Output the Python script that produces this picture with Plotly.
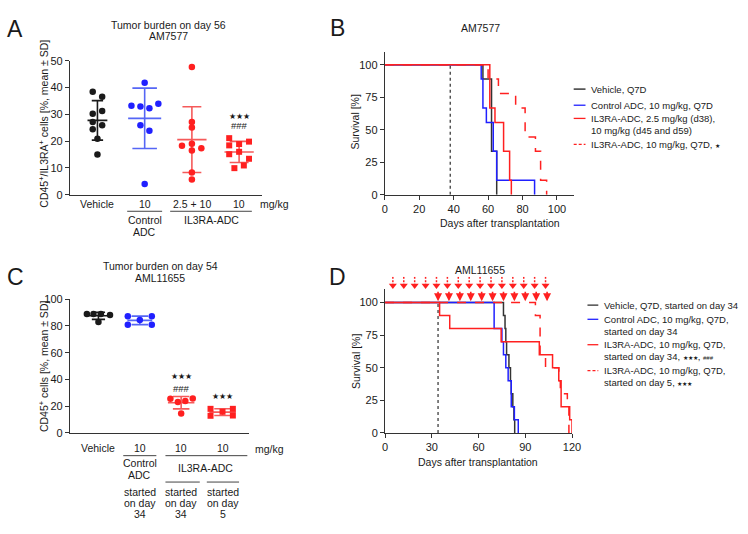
import numpy as np
import plotly.graph_objects as go

W, H = 748, 534
FONT = "Arial, Liberation Sans, sans-serif"
BLACK = "#1a1a1a"
BLUE = "#2020ff"
RED = "#ff2020"
BLUE_EB = "#5566f5"
RED_EB = "#f55a5a"
AXC = "#333333"

# ---------------- Panel A data (tumor burden day 56, AM7577) ----------------
a_title = ["Tumor burden on day 56", "AM7577"]
a_ticks = ["Vehicle", "10", "2.5 + 10", "10"]
a_vehicle = [38.4, 36.6, 30.2, 31.2, 27.1, 25.9, 24.4, 20.9, 15.0]
a_control = [41.8, 33.2, 32.9, 32.3, 33.9, 25.9, 23.9, 4.0]
a_il3ra_low = [47.7, 27.1, 25.1, 18.3, 19.0, 16.5, 17.3, 8.3, 5.7]
a_il3ra_q7d = [21.1, 19.8, 18.9, 18.4, 15.1, 16.0, 13.4, 9.9, 10.9]
# horizontal scatter of the dots (style)
a_jit_vehicle = [-0.1, 0.1, -0.1, 0.1, -0.1, 0.1, -0.1, 0.0, 0.0]
a_jit_control = [0.0, -0.28, -0.09, 0.1, 0.29, -0.09, 0.1, 0.0]
a_jit_low = [0.0, 0.0, 0.0, -0.21, 0.0, 0.0, 0.2, 0.0, 0.0]
a_jit_q7d = [-0.21, 0.21, 0.0, -0.21, -0.21, 0.0, 0.21, -0.1, 0.1]

# ---------------- Panel C data (tumor burden day 54, AML11655) --------------
c_title = ["Tumor burden on day 54", "AML11655"]
c_ticks = ["Vehicle", "10", "10", "10"]
c_vehicle = [89.0, 89.0, 89.0, 88.3, 82.9]
c_control = [87.3, 87.3, 81.0, 81.0, 84.4]
c_il3ra34 = [25.6, 23.2, 23.8, 25.8, 14.6]
c_il3ra5 = [18.0, 12.8, 15.8, 18.0, 13.0]
c_jit_vehicle = [-0.28, -0.12, 0.06, 0.28, 0.0]
c_jit_control = [-0.29, 0.29, -0.29, 0.29, 0.0]
c_jit_34 = [-0.26, -0.08, 0.1, 0.28, 0.0]
c_jit_5 = [-0.29, -0.29, 0.0, 0.25, 0.25]

# ---------------- Panel B survival (AM7577) ----------------
b_vehicle_days = [0, 57, 62, 65]
b_vehicle_surv = [100, 88.9, 33.3, 0]
b_control_days = [0, 56, 57, 59, 63, 65, 87]
b_control_surv = [100, 88.9, 66.7, 55.6, 33.3, 11.1, 0]
b_low_days = [0, 61, 64, 69, 72.5, 73.5]
b_low_surv = [100, 66.7, 55.6, 33.3, 11.1, 0]
b_q7d_days = [0, 60, 66, 76, 81.5, 87.5, 90.5, 94]
b_q7d_surv = [100, 88.9, 77.8, 66.7, 44.4, 33.3, 11.1, 0]
b_dosing_days = [38, 45, 52, 59, 66, 73, 80, 87]
b_start_day = 38
b_legend = ["Vehicle, Q7D", "Control ADC, 10 mg/kg, Q7D",
            "IL3RA-ADC, 2.5 mg/kg (d38),<br>10 mg/kg (d45 and d59)",
            "IL3RA-ADC, 10 mg/kg, Q7D, <span style='font-size:6px'>★</span>"]

# ---------------- Panel D survival (AML11655) ----------------
d_vehicle_days = [0, 76, 77, 77.5, 78, 79.5, 80.5, 81, 82, 82.7, 83.2]
d_vehicle_surv = [100, 90, 80, 70, 60, 50, 40, 30, 20, 10, 0]
d_control_days = [0, 70, 75, 76, 77.5, 79, 81, 83, 85.5]
d_control_surv = [100, 80, 70, 60, 50, 40, 20, 10, 0]
d_d34_days = [0, 35, 41.5, 74.5, 99, 107.5, 111.5, 113, 118.5, 120]
d_d34_surv = [100, 90, 80, 70, 60, 50, 40, 20, 10, 0]
d_d5_days = [0, 96.5, 99.5, 103, 111.5, 112.5, 117, 118]
d_d5_surv = [100, 90, 60, 50, 40, 30, 20, 0]
d_dosing_from5 = [5, 12, 19, 26, 33, 40, 47, 54, 61, 68, 75, 82, 89, 96, 103]
d_dosing_from34 = [34, 41, 48, 55, 62, 69, 76, 83, 90, 97, 104]
d_start_day = 34
d_legend = ["Vehicle, Q7D, started on day 34",
            "Control ADC, 10 mg/kg, Q7D,<br>started on day 34",
            "IL3RA-ADC, 10 mg/kg, Q7D,<br>started on day 34, <span style='font-size:6px'>★★★</span>, <span style='font-size:6px'>###</span>",
            "IL3RA-ADC, 10 mg/kg, Q7D,<br>started on day 5, <span style='font-size:6px'>★★★</span>"]

fig = go.Figure()
annotations = []
shapes = []


def px(x):
    return x / W


def py(y):
    return 1 - y / H


def ann(text, x, y, size=10, xanchor="center", yanchor="middle", angle=0,
        color=BLACK, xref="paper", yref="paper", family=FONT, align="center"):
    annotations.append(dict(
        text=text, x=(px(x) if xref == "paper" else x),
        y=(py(y) if yref == "paper" else y),
        xref=xref, yref=yref, showarrow=False, textangle=angle, align=align,
        font=dict(size=size, family=family, color=color),
        xanchor=xanchor, yanchor=yanchor, borderpad=0))


def group(xc, vals, jit, color, eb_color, symbol, size, xa, ya, mean_hw, cap_hw):
    vals = np.array(vals, dtype=float)
    m = vals.mean()
    s = vals.std(ddof=1)
    lx = [xc - mean_hw, xc + mean_hw, None, xc, xc, None,
          xc - cap_hw, xc + cap_hw, None, xc - cap_hw, xc + cap_hw]
    ly = [m, m, None, m - s, m + s, None, m + s, m + s, None, m - s, m - s]
    fig.add_trace(go.Scatter(x=lx, y=ly, mode="lines", xaxis=xa, yaxis=ya,
                             line=dict(color=eb_color, width=1.6),
                             hoverinfo="skip", showlegend=False))
    fig.add_trace(go.Scatter(x=xc + np.array(jit), y=vals, mode="markers",
                             xaxis=xa, yaxis=ya, cliponaxis=False,
                             marker=dict(color=color, symbol=symbol, size=size,
                                         line=dict(width=0)),
                             showlegend=False))


# ---------------- Panel A ----------------
group(0, a_vehicle, a_jit_vehicle, BLACK, BLACK, "circle", 6.5, "x", "y", 0.21, 0.12)
group(1, a_control, a_jit_control, BLUE, BLUE_EB, "circle", 6.5, "x", "y", 0.35, 0.26)
group(2, a_il3ra_low, a_jit_low, RED, RED_EB, "circle", 6.5, "x", "y", 0.31, 0.2)
group(3, a_il3ra_q7d, a_jit_q7d, RED, RED_EB, "square", 6, "x", "y", 0.31, 0.2)

ann("★★★", 3, 29.3, size=7.5, xref="x", yref="y")
ann("###", 3, 25.7, size=9.5, xref="x", yref="y")

# ---------------- Panel C ----------------
group(0, c_vehicle, c_jit_vehicle, BLACK, BLACK, "circle", 6.5, "x3", "y3", 0.3, 0.16)
group(1, c_control, c_jit_control, BLUE, BLUE_EB, "circle", 6.5, "x3", "y3", 0.3, 0.2)
group(2, c_il3ra34, c_jit_34, RED, RED_EB, "circle", 6.5, "x3", "y3", 0.32, 0.2)
group(3, c_il3ra5, c_jit_5, RED, RED_EB, "square", 6, "x3", "y3", 0.32, 0.2)

ann("★★★", 2, 42.4, size=7.5, xref="x3", yref="y3")
ann("###", 2, 33.4, size=9.5, xref="x3", yref="y3")
ann("★★★", 3, 27.6, size=7.5, xref="x3", yref="y3")


# ---------------- Panel B ----------------
def surv(days, s, color, dash, xa, ya, width=1.5):
    fig.add_trace(go.Scatter(x=days, y=s, mode="lines", line_shape="hv",
                             xaxis=xa, yaxis=ya,
                             line=dict(color=color, width=width, dash=dash),
                             showlegend=False))


fig.add_trace(go.Scatter(x=[b_start_day, b_start_day], y=[0, 100], mode="lines",
                         xaxis="x2", yaxis="y2",
                         line=dict(color=BLACK, width=1.1, dash="dot"), showlegend=False))
surv(b_vehicle_days, b_vehicle_surv, "#333333", "solid", "x2", "y2")
surv(b_control_days, b_control_surv, BLUE, "solid", "x2", "y2")
surv(b_q7d_days, b_q7d_surv, RED, "dash", "x2", "y2")
surv(b_low_days, b_low_surv, RED, "solid", "x2", "y2")

for d in b_dosing_days:
    annotations.append(dict(x=d, y=111, xref="x2", yref="y2", text="", showarrow=True,
                            ax=0, ay=-10, arrowhead=2, arrowsize=1, arrowwidth=1.2,
                            arrowcolor="#666666"))

# ---------------- Panel D ----------------
fig.add_trace(go.Scatter(x=[d_start_day, d_start_day], y=[0, 100], mode="lines",
                         xaxis="x4", yaxis="y4",
                         line=dict(color=BLACK, width=1.1, dash="dot"), showlegend=False))
surv(d_vehicle_days, d_vehicle_surv, "#333333", "solid", "x4", "y4")
surv(d_control_days, d_control_surv, BLUE, "solid", "x4", "y4")
surv(d_d5_days, d_d5_surv, RED, "dash", "x4", "y4")
surv(d_d34_days, d_d34_surv, RED, "solid", "x4", "y4")

# dashed dosing arrows (started day 5) on a thin overlay axis above panel D
sx, sy = [], []
for d in d_dosing_from5:
    sx += [d, d, None]
    sy += [1.0, 0.3, None]
fig.add_trace(go.Scatter(x=sx, y=sy, mode="lines", xaxis="x5", yaxis="y5",
                         line=dict(color=RED, width=1.5, dash="2px,1.5px"),
                         hoverinfo="skip", showlegend=False))
fig.add_trace(go.Scatter(x=d_dosing_from5, y=[0.18] * len(d_dosing_from5), mode="markers",
                         xaxis="x5", yaxis="y5", cliponaxis=False,
                         marker=dict(symbol="triangle-down", size=7, color=RED,
                                     line=dict(width=0)),
                         hoverinfo="skip", showlegend=False))
for d in d_dosing_from34:
    annotations.append(dict(x=d, y=101, xref="x4", yref="y4", text="", showarrow=True,
                            ax=0, ay=-11, arrowhead=2, arrowsize=1, arrowwidth=1.6,
                            arrowcolor=RED))

# ---------------- text: panel letters / titles ----------------
ann("A", 12, 24, size=23)
ann("B", 340, 23, size=23)
ann("C", 13, 277, size=23)
ann("D", 340, 277, size=23)

ann(a_title[0], 168, 19, size=10.5)
ann(a_title[1], 168, 31, size=10.5)
ann(c_title[0], 160, 266, size=10.5)
ann(c_title[1], 160, 278, size=10.5)
ann("AM7577", 485, 22, size=10.5)
ann("AML11655", 485, 270, size=10.5)

ann("CD45<sup>+</sup>/IL3RA<sup>+</sup> cells [%, mean ± SD]", 41, 120, size=10.5, angle=-90)
ann("CD45<sup>+</sup> cells [%, mean ± SD]", 41, 368, size=10.5, angle=-90)
ann("Survival [%]", 358, 118, size=10.5, angle=-90)
ann("Survival [%]", 359, 363, size=10.5, angle=-90)
ann("Days after transplantation", 505, 222, size=10.5)
ann("Days after transplantation", 483, 466, size=10.5)


# ---------------- group labels below category axes ----------------
def under(xa, x0, x1, y):
    shapes.append(dict(type="line", xref=xa, yref="paper", x0=x0, x1=x1,
                       y0=py(y), y1=py(y), line=dict(color="#444444", width=1)))


# A
for i, t in enumerate(a_ticks):
    ann(t, i, 203, size=10.5, xref="x")
under("x", 0.63, 1.37, 210)
under("x", 1.54, 3.27, 210)
ann("Control", 1, 219, size=10.5, xref="x")
ann("ADC", 1, 231, size=10.5, xref="x")
ann("IL3RA-ADC", 2.41, 219, size=10.5, xref="x")
ann("mg/kg", 276, 203, size=10.5)
# C
for i, t in enumerate(c_ticks):
    ann(t, i, 452.5, size=10.5, xref="x3")
under("x3", 0.6, 1.4, 460)
under("x3", 1.62, 3.6, 460)
ann("Control", 1, 468, size=10.5, xref="x3")
ann("ADC", 1, 480, size=10.5, xref="x3")
ann("IL3RA-ADC", 2.6, 473, size=10.5, xref="x3")
under("x3", 1.62, 2.45, 487)
under("x3", 2.62, 3.4, 487)
for xc, day in [(1, "34"), (2, "34"), (3, "5")]:
    ann("started", xc, 497, size=10.5, xref="x3")
    ann("on day", xc, 508.5, size=10.5, xref="x3")
    ann(day, xc, 520, size=10.5, xref="x3")
ann("mg/kg", 271, 453, size=10.5)

# ---------------- manual legends ----------------
b_rows = [(85, BLACK, "solid"), (101.5, BLUE, "solid"), (115, RED, "solid"), (141.5, RED, "dash")]
for (yy, col, dash), txt in zip(b_rows, b_legend):
    shapes.append(dict(type="line", xref="paper", yref="paper", x0=px(580), x1=px(592),
                       y0=py(yy), y1=py(yy), line=dict(color=col, width=1.3,
                                                          dash=("3px,2px" if dash == "dash" else "solid"))))
    ann(txt, 597, yy - 6.5, size=9.5, xanchor="left", yanchor="top", align="left")

d_rows = [(306, "#333333", "solid"), (320.5, BLUE, "solid"), (346.5, RED, "solid"), (373, RED, "dash")]
for (yy, col, dash), txt in zip(d_rows, d_legend):
    shapes.append(dict(type="line", xref="paper", yref="paper", x0=px(594), x1=px(605),
                       y0=py(yy), y1=py(yy), line=dict(color=col, width=1.3,
                                                          dash=("3px,2px" if dash == "dash" else "solid"))))
    ann(txt, 610, yy - 6.5, size=9.5, xanchor="left", yanchor="top", align="left")

# ---------------- axes ----------------
axis_common = dict(showline=True, linecolor=AXC, linewidth=1, showgrid=False,
                   zeroline=False, tickfont=dict(size=11, family=FONT, color=BLACK),
                   ticks="outside", ticklen=4, tickcolor=AXC, fixedrange=True)

fig.update_layout(
    width=W, height=H, margin=dict(l=0, r=0, t=0, b=0),
    paper_bgcolor="white", plot_bgcolor="white", showlegend=False,
    font=dict(family=FONT, color=BLACK),
    xaxis=dict(axis_common, domain=[px(68), px(263)], range=[-0.583, 3.48],
               showticklabels=False, ticks="", anchor="y"),
    yaxis=dict(axis_common, domain=[py(193), py(56)], range=[0, 50],
               tickvals=[0, 10, 20, 30, 40, 50], anchor="x"),
    xaxis2=dict(axis_common, domain=[px(388), px(580.5)], range=[0, 110],
                tickvals=[0, 20, 40, 60, 80, 100], anchor="y2"),
    yaxis2=dict(axis_common, domain=[py(193), py(46.7)], range=[0, 110],
                tickvals=[0, 25, 50, 75, 100], anchor="x2"),
    xaxis3=dict(axis_common, domain=[px(68), px(250)], range=[-0.69, 3.64],
                showticklabels=False, ticks="", anchor="y3"),
    yaxis3=dict(axis_common, domain=[py(436.7), py(300)], range=[0, 100],
                tickvals=[0, 20, 40, 60, 80, 100], anchor="x3"),
    xaxis4=dict(axis_common, domain=[px(388.3), px(578.3)], range=[0, 120],
                tickvals=[0, 30, 60, 90, 120], anchor="y4"),
    yaxis4=dict(axis_common, domain=[py(436.7), py(290)], range=[0, 110],
                tickvals=[0, 25, 50, 75, 100], anchor="x4"),
    xaxis5=dict(domain=[px(388.3), px(578.3)], range=[0, 120], visible=False,
                anchor="y5", fixedrange=True),
    yaxis5=dict(domain=[py(288), py(277)], range=[0, 1], visible=False,
                anchor="x5", fixedrange=True),
    annotations=annotations, shapes=shapes,
)

fig.write_html("out.html", config={"displayModeBar": False},
               post_script="document.body.style.margin='0px';")
